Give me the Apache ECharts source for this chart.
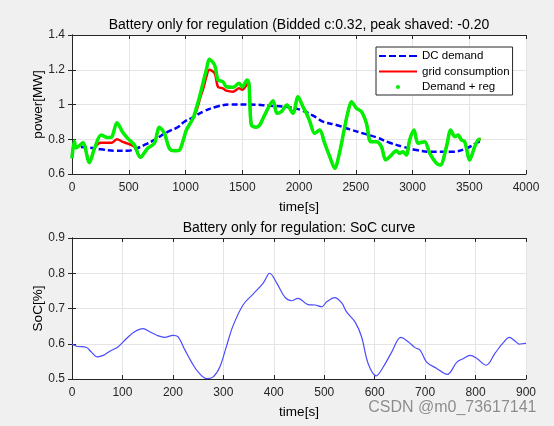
<!DOCTYPE html>
<html>
<head>
<meta charset="utf-8">
<script src="https://cdn.jsdelivr.net/npm/echarts@6/dist/echarts.min.js"></script>
<style>
html,body{margin:0;padding:0;background:#f0f0f0;}
#c{width:554px;height:426px;}
</style>
</head>
<body>
<div id="c"></div>
<script>
// ---- data ----
var topTitle = 'Battery only for regulation (Bidded c:0.32, peak shaved: -0.20';
var bottomTitle = 'Battery only for regulation: SoC curve';
var topXTicks = [0, 4000, 500];
var topYTicks = [0.6, 1.4, 0.2];
var botXTicks = [0, 900, 100];
var botYTicks = [0.5, 0.9, 0.1];

var demandTime = [0,138,256,373,491,564,638,726,843,931,990,1063,1154,1272,1389,1566,1742,1918,2035,2153,2211,2329,2447,2564,2682,2799,2916,3034,3152,3211,3358,3475,3563,3600];
var demandPower = [0.757,0.752,0.742,0.734,0.734,0.746,0.767,0.796,0.843,0.869,0.901,0.925,0.959,0.987,1.0,1.0,0.993,0.984,0.964,0.925,0.901,0.882,0.857,0.834,0.811,0.78,0.757,0.738,0.728,0.728,0.728,0.748,0.778,0.79];

var regTime = [0,20,35,60,97,153,200,256,315,352,396,447,491,550,602,667,726,770,814,858,902,946,978,1008,1066,1100,1130,1160,1184,1210,1257,1286,1330,1360,1419,1472,1501,1542,1559,1580,1624,1654,1698,1771,1806,1845,1894,1947,1991,2035,2065,2094,2138,2182,2226,2271,2315,2359,2403,2432,2462,2506,2550,2594,2632,2682,2726,2764,2814,2858,2887,2916,2946,2975,3013,3049,3107,3152,3211,3246,3299,3337,3372,3401,3431,3460,3504,3548,3586,3600];
var regPower = [0.69,0.79,0.75,0.76,0.78,0.665,0.75,0.824,0.81,0.815,0.895,0.84,0.805,0.767,0.696,0.748,0.777,0.869,0.834,0.748,0.734,0.738,0.79,0.853,0.92,0.99,1.06,1.14,1.2,1.26,1.227,1.141,1.131,1.102,1.099,1.122,1.102,1.141,1.122,0.882,0.869,0.882,0.94,1.022,0.949,0.959,0.997,0.949,1.045,0.987,0.949,0.905,0.834,0.853,0.777,0.70,0.633,0.728,0.872,0.959,1.016,0.978,0.959,0.892,0.786,0.786,0.757,0.681,0.709,0.734,0.719,0.728,0.709,0.796,0.853,0.777,0.786,0.719,0.662,0.652,0.757,0.853,0.815,0.824,0.796,0.786,0.681,0.757,0.80,0.80];
var gridPower = [0.70,0.78,0.75,0.76,0.78,0.665,0.75,0.78,0.78,0.78,0.80,0.785,0.775,0.757,0.696,0.748,0.777,0.869,0.834,0.748,0.734,0.738,0.79,0.853,0.92,0.97,1.04,1.10,1.16,1.20,1.18,1.102,1.093,1.08,1.074,1.093,1.085,1.115,1.12,0.882,0.869,0.882,0.94,1.022,0.949,0.959,0.997,0.949,1.045,0.987,0.949,0.905,0.834,0.853,0.777,0.70,0.633,0.728,0.872,0.959,1.016,0.978,0.959,0.892,0.786,0.786,0.757,0.681,0.709,0.734,0.719,0.728,0.709,0.796,0.853,0.777,0.786,0.719,0.662,0.652,0.757,0.853,0.815,0.824,0.796,0.786,0.681,0.757,0.80,0.80];

var socTime = [0,9,28,38,50,62,75,91,108,124,141,154,168,184,200,210,224,237,250,267,280,293,306,319,339,359,379,392,406,422,435,448,468,482,495,505,521,535,544,561,574,587,603,617,634,652,667,680,690,703,723,744,763,776,789,802,821,839,855,867,878,887,898,900];
var socValue = [0.599,0.593,0.59,0.577,0.563,0.567,0.579,0.591,0.615,0.634,0.643,0.634,0.624,0.618,0.624,0.62,0.582,0.548,0.52,0.501,0.506,0.534,0.592,0.65,0.71,0.741,0.772,0.80,0.772,0.732,0.722,0.729,0.711,0.71,0.705,0.719,0.731,0.715,0.691,0.662,0.62,0.544,0.509,0.534,0.577,0.618,0.605,0.589,0.582,0.548,0.53,0.513,0.548,0.558,0.567,0.559,0.539,0.574,0.603,0.618,0.608,0.599,0.601,0.601];

function pairs(xs, ys){ return xs.map(function(x,i){ return [x, ys[i]]; }); }
function plain(v){ return String(Math.round(v * 1000) / 1000); }

var FONT = '"Liberation Sans", Arial, sans-serif';
var AX = '#262626';
var GRIDC = '#e4e4e4';

function mainX(grid, t, name){
  return {type:'value', gridIndex:grid, min:t[0], max:t[1], interval:t[2], position:'bottom',
    name:name, nameLocation:'middle', nameGap:26,
    nameTextStyle:{color:'#000', fontSize:13.5, fontFamily:FONT},
    axisLine:{show:true, lineStyle:{color:AX, width:1}},
    axisTick:{show:true, inside:true, length:4, lineStyle:{color:AX}},
    axisLabel:{color:AX, fontSize:12, fontFamily:FONT, margin:8, formatter:plain},
    splitLine:{show:true, lineStyle:{color:GRIDC, width:1}}};
}
function mainY(grid, t, name){
  return {type:'value', gridIndex:grid, min:t[0], max:t[1], interval:t[2], position:'left',
    name:name, nameLocation:'middle', nameGap:27, nameMoveOverlap:false,
    nameTextStyle:{color:'#000', fontSize:13.5, fontFamily:FONT},
    axisLine:{show:true, lineStyle:{color:AX, width:1}},
    axisTick:{show:true, inside:true, length:4, lineStyle:{color:AX}},
    axisLabel:{color:AX, fontSize:12, fontFamily:FONT, margin:7, formatter:plain},
    splitLine:{show:true, lineStyle:{color:GRIDC, width:1}}};
}
function boxX(grid, t){
  return {type:'value', gridIndex:grid, min:t[0], max:t[1], interval:t[2], position:'top',
    axisLine:{show:true, lineStyle:{color:AX, width:1}},
    axisTick:{show:true, inside:true, length:4, lineStyle:{color:AX}},
    axisLabel:{show:false}, splitLine:{show:false}};
}
function boxY(grid, t){
  return {type:'value', gridIndex:grid, min:t[0], max:t[1], interval:t[2], position:'right',
    axisLine:{show:true, lineStyle:{color:AX, width:1}},
    axisTick:{show:true, inside:true, length:4, lineStyle:{color:AX}},
    axisLabel:{show:false}, splitLine:{show:false}};
}

var chart = echarts.init(document.getElementById('c'), null, {renderer:'canvas'});
chart.setOption({
  backgroundColor:'#f0f0f0',
  animation:false,
  textStyle:{fontFamily:FONT},
  title:[
    {text:topTitle, left:299, top:18, textAlign:'center', padding:0,
     textStyle:{color:'#000', fontSize:14, fontWeight:'normal', fontFamily:FONT}},
    {text:bottomTitle, left:299, top:221, textAlign:'center', padding:0,
     textStyle:{color:'#000', fontSize:14, fontWeight:'normal', fontFamily:FONT}}
  ],
  legend:{
    orient:'vertical', left:376, top:47,
    backgroundColor:'#fff', borderColor:AX, borderWidth:1,
    padding:[3,3,2,3], itemGap:3.5, itemWidth:38, itemHeight:4,
    textStyle:{color:'#000', fontSize:11.5, fontFamily:FONT},
    itemStyle:{borderWidth:0},
    data:[
      {name:'DC demand', icon:'path://M0,0h7v2h-7z M10,0h7v2h-7z M20,0h7v2h-7z M30,0h8v2h-8z'},
      {name:'grid consumption', icon:'path://M0,0h38v2h-38z'},
      {name:'Demand + reg', icon:'circle'}
    ]
  },
  grid:[
    {left:72, top:35, width:454, height:139, show:true, backgroundColor:'#fff', borderWidth:0},
    {left:72, top:238, width:454, height:141, show:true, backgroundColor:'#fff', borderWidth:0}
  ],
  xAxis:[mainX(0, topXTicks, 'time[s]'), boxX(0, topXTicks), mainX(1, botXTicks, 'time[s]'), boxX(1, botXTicks)],
  yAxis:[mainY(0, topYTicks, 'power[MW]'), boxY(0, topYTicks), mainY(1, botYTicks, 'SoC[%]'), boxY(1, botYTicks)],
  series:[
    {name:'DC demand', type:'line', xAxisIndex:0, yAxisIndex:0, data:pairs(demandTime, demandPower),
     smooth:0.4, symbol:'none', color:'#0000ff', z:3,
     lineStyle:{color:'#0000ff', width:2.5, type:[6,3]}},
    {name:'grid consumption', type:'line', xAxisIndex:0, yAxisIndex:0, data:pairs(regTime, gridPower),
     smooth:0.3, symbol:'none', color:'#ff0000', z:4,
     lineStyle:{color:'#ff0000', width:2.5}},
    {name:'Demand + reg', type:'line', xAxisIndex:0, yAxisIndex:0, data:pairs(regTime, regPower),
     smooth:0.3, symbol:'none', color:'#00f000', z:5,
     lineStyle:{color:'#00f000', width:3.5}},
    {name:'SoC', type:'line', xAxisIndex:2, yAxisIndex:2, data:pairs(socTime, socValue),
     smooth:0.35, symbol:'none', color:'#4b4bff',
     lineStyle:{color:'#4b4bff', width:1.2}}
  ],
  graphic:[
    {type:'text', right:17, top:399, z:100,
     style:{text:'CSDN @m0_73617141', fill:'#8c8c8c', font:'16px ' + FONT, stroke:'#f4f4f4', lineWidth:1}}
  ]
});
</script>
</body>
</html>
